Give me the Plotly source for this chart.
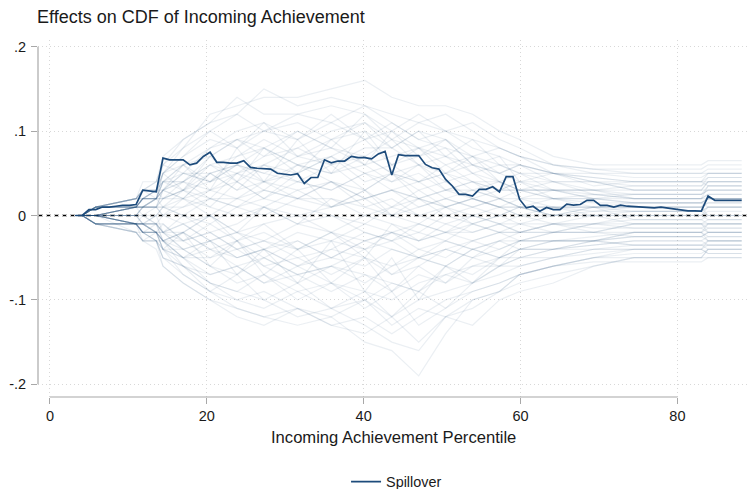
import numpy as np
import plotly.graph_objects as go

# ---------------- data ----------------
# sample positions (percentile) of the estimates: 100 evenly spaced points
x_grid = np.linspace(3.26, 88.2, 100)

# Spillover estimate at every sample position
spillover = [
    0.0, 0.0, 0.007, 0.007, 0.010, 0.010, 0.011, 0.012, 0.012, 0.013,
    0.030, 0.029, 0.028, 0.068, 0.066, 0.066, 0.066, 0.060, 0.062, 0.070,
    0.075, 0.063, 0.063, 0.062, 0.062, 0.065, 0.057, 0.056, 0.0555, 0.055,
    0.050, 0.049, 0.048, 0.0495, 0.038, 0.045, 0.045, 0.066, 0.0625, 0.0645,
    0.0645, 0.070, 0.0685, 0.0685, 0.067, 0.073, 0.076, 0.048, 0.072, 0.071,
    0.071, 0.071, 0.0605, 0.0566, 0.055, 0.0427, 0.035, 0.025, 0.025, 0.023,
    0.031, 0.031, 0.034, 0.028, 0.046, 0.046, 0.019, 0.009, 0.011, 0.005,
    0.0095, 0.007, 0.007, 0.0134, 0.0122, 0.013, 0.018, 0.018, 0.012, 0.012,
    0.010, 0.0122, 0.011, 0.0106, 0.010, 0.009, 0.009, 0.010, 0.0087, 0.008,
    0.006, 0.0055, 0.0055, 0.0052, 0.023, 0.018, 0.018, 0.018, 0.018, 0.018,
]

# placebo draws, read at these sample indices (values in hundredths)
placebo_knots = [0, 1, 3, 9, 10, 12, 13, 16, 20, 24, 28, 33, 38, 43, 47, 51,
                 55, 59, 63, 66, 71, 77, 83, 93, 94, 99]
placebo_hundredths = [
    [0, 0, 1, 2, 3, 4, 6, 8, 12, 13, 14, 14, 15, 16, 14, 13, 13, 12, 10, 9, 7, 6, 6, 6, 6.5, 6.5],
    [0, 0, 1, 2, 4, 4, 6, 9, 11, 14, 12, 12, 13, 12, 10, 12, 10, 11, 9, 8, 6, 5.5, 5, 5, 5.5, 5.5],
    [0, 0, 1, 1, 2, 2, 4, 5, 8, 10, 11, 9, 12, 9, 11, 9, 8, 7, 8, 7, 5, 4.5, 4, 4, 5, 5],
    [0, 0, 0, 1, 2, 3, 5, 7, 9, 8, 10, 11, 9, 10, 8, 10, 9, 6, 5, 6, 5, 4.5, 4, 4, 3.5, 3.5],
    [0, 0, 1, 2, 3, 3, 3, 6, 7, 9, 7, 8, 10, 11, 9, 8, 6, 7, 5, 4, 4, 3, 3.5, 3.5, 4.5, 4.5],
    [0, 0, 0, 1, 1, 2, 4, 4, 6, 7, 8, 6, 7, 9, 6, 7, 8, 5, 6, 5, 4, 4, 3.5, 3.5, 4, 4],
    [0, 0, 1, 1, 2, 2, 3, 5, 5, 6, 5, 7, 6, 8, 8, 6, 5, 6, 4, 5, 3, 3, 2.5, 2.5, 3, 3],
    [0, 0, 0, 1, 1, 1, 2, 3, 4, 5, 6, 5, 7, 5, 6, 4, 5, 4, 3, 3, 4, 2.5, 2, 2, 2.5, 2.5],
    [0, 0, 1, 2, 2, 2, 3, 4, 3, 5, 4, 6, 5, 6, 4, 5, 3, 4, 4, 2, 3, 2.5, 2.5, 2.5, 3, 3],
    [0, 0, 0, 1, 2, 3, 2, 3, 5, 3, 4, 3, 4, 3, 5, 3, 4, 2, 3, 3, 2, 2, 1.5, 1.5, 2, 2],
    [0, 0, 0, 0, 1, 1, 2, 2, 3, 4, 2, 4, 3, 5, 3, 4, 2, 3, 2, 2, 2, 1, 1, 1, 1.5, 1.5],
    [0, 0, 1, 1, 1, 1, 1, 3, 2, 2, 3, 2, 1, 2, 3, 2, 3, 2, 1, 1, 1, 0.5, 0.5, 0.5, 1, 1],
    [0, 0, 0, 1, 1, 2, 1, 1, 2, 1, 0, 2, 2, 1, 0, 1, 2, 1, 2, 1, 1, 0, 0, 0, 0.5, 0.5],
    [0, 0, 0, 0, 1, 1, 0, 2, 1, 0, 1, 0, 1, 3, 1, 2, 0, 1, 0, 1, 0, 0.5, 1, 1, 1.5, 1.5],
    [0, 0, 0, 1, 0, 0, 1, 0, -1, 1, 2, 1, 0, -1, 1, 0, -1, 0, 1, 0, 0, 1, -0.5, -0.5, 0, 0],
    [0, 0, 0, 0, 0, -1, 0, -1, 0, -2, -1, 0, -2, 0, -1, -2, 0, -1, 0, -1, 0, 0, -1, -1, -0.5, -0.5],
    [0, 0, 0, -1, -1, -1, -2, -1, -3, -2, -3, -1, -2, -3, -2, -1, -2, -2, -1, -2, -1, -1.5, -1.5, -1.5, -1, -1],
    [0, 0, -1, -1, -1, -2, -1, -3, -2, -4, -3, -4, -2, -4, -3, -2, -3, -1, -2, -2, -1, -2, -1, -1, -1.5, -1.5],
    [0, 0, 0, -1, -2, -2, -3, -2, -4, -3, -5, -3, -5, -3, -4, -5, -3, -4, -3, -2, -2, -2, -2.5, -2.5, -2, -2],
    [0, 0, -1, -1, -1, -2, -2, -4, -3, -5, -4, -6, -4, -5, -6, -4, -5, -3, -4, -3, -3, -2.5, -2, -2, -2.5, -2.5],
    [0, 0, 0, -1, -2, -3, -3, -5, -5, -4, -6, -5, -7, -5, -7, -6, -4, -5, -3, -4, -3, -3, -2.5, -2.5, -3, -3],
    [0, 0, -1, -2, -2, -2, -4, -4, -6, -7, -5, -7, -6, -8, -6, -5, -6, -4, -5, -4, -3, -3, -3.5, -3.5, -3.5, -3.5],
    [0, 0, 0, -1, -2, -2, -3, -6, -7, -6, -8, -7, -9, -7, -8, -9, -6, -7, -5, -4, -4, -3.5, -3, -3, -2.5, -2.5],
    [0, 0, -1, -1, -3, -3, -5, -6, -8, -9, -7, -10, -8, -9, -10, -8, -7, -6, -6, -5, -4, -4, -3.5, -3.5, -4, -4],
    [0, 0, 0, -2, -3, -3, -4, -7, -9, -10, -11, -9, -11, -10, -12, -10, -9, -8, -6, -6, -5, -4.5, -4, -4, -4.5, -4.5],
    [0, 0, -1, -2, -3, -4, -6, -8, -10, -11, -12, -11, -13, -12, -14, -12, -10, -9, -8, -7, -6, -5, -4.5, -4.5, -4, -4],
    [0, 0, -1, -2, -3, -3, -5, -7, -9, -11, -12, -13, -12, -15, -16, -19, -14, -10, -9, -8, -7, -6, -5, -5, -5, -5],
    [0, 0, 0, -1, -2, -2, -3, -5, -8, -9, -10, -12, -11, -13, -15, -16, -12, -11, -9, -7, -6, -5.5, -5.5, -5.5, -5, -5],
    [0, 0, 1, 2, 3, 3, 5, 8, 10, 12, 15, 13, 14, 13, 12, 11, 12, 10, 8, 7, 6, 5.5, 5.5, 5.5, 6, 6],
    [0, 0, 0, 1, 2, 2, 3, 4, 6, 4, 6, 8, 6, 7, 5, 6, 4, 5, 3, 4, 2, 2.5, 2, 2, 3.5, 3.5],
    [0, 0, 0, 0, -1, 0, 1, 2, 0, 2, 1, 3, 1, 2, 0, -1, 1, 0, -1, 0, -1, 0, 0.5, 0.5, 0, 0],
    [0, 0, 0, -1, 0, -1, -2, 0, -2, -1, 1, -1, 0, -2, -3, -1, -2, 0, -1, -1, -2, -1, -1.5, -1.5, -2, -2],
    [0, 0, 1, 1, 2, 2, 4, 6, 4, 7, 9, 7, 8, 6, 7, 8, 7, 6, 5, 6, 4, 4, 3, 3, 4, 4],
    [0, 0, -1, -1, -2, -1, -3, -3, -5, -3, -6, -8, -6, -7, -9, -7, -8, -6, -5, -5, -4, -3.5, -3, -3, -3.5, -3.5],
    [0, 0, 0, 0, 1, 1, 3, 2, 5, 6, 4, 5, 7, 4, 5, 2, 3, 3, 2, 1, 2, 1.5, 1.5, 1.5, 2, 2],
    [0, 0, 0, -1, -1, -1, -1, -3, -1, -3, -2, -4, -3, -1, -2, -3, -2, -3, -2, -3, -2, -1, -0.5, -0.5, -1, -1],
    [0, 0, 1, 1, 1, 2, 2, 4, 7, 9, 8, 10, 8, 7, 9, 6, 7, 5, 4, 3, 3, 3, 2, 2, 2.5, 2.5],
    [0, 0, -1, -1, -1, -2, -3, -5, -7, -6, -8, -6, -8, -10, -8, -9, -7, -8, -6, -5, -5, -4, -4, -4, -3.5, -3.5],
    [0, 0, 0, 1, 1, 1, 0, 1, 3, 2, 4, 2, 4, 2, 3, 1, 2, 1, 2, 1, 1, 1, 1.5, 1.5, 1, 1],
    [0, 0, 0, -1, -1, -2, -2, -2, -4, -5, -4, -6, -5, -6, -4, -5, -4, -5, -4, -3, -3, -3, -2, -2, -1.5, -1.5],
    [0, 0, 1, 1, 2, 2, 5, 3, 7, 4, 8, 5, 9, 6, 10, 7, 9, 6, 7, 4, 5, 3.5, 4, 4, 4.5, 4.5],
    [0, 0, -1, -1, -2, -2, -4, -2, -6, -3, -7, -4, -8, -5, -9, -6, -8, -5, -6, -4, -4, -3, -2.5, -2.5, -2, -2],
    [0, 0, 0, 1, 2, 3, 4, 6, 3, 8, 4, 9, 5, 10, 6, 8, 5, 7, 4, 3, 3, 2, 2.5, 2.5, 3.5, 3.5],
    [0, 0, 0, -1, -2, -3, -4, -5, -3, -7, -4, -8, -3, -9, -5, -10, -6, -8, -5, -4, -4, -3, -3.5, -3.5, -3, -3],
    [0, 0, 1, 2, 3, 2, 5, 7, 10, 8, 11, 7, 9, 11, 8, 10, 7, 9, 6, 5, 5, 4, 3, 3, 4, 4],
    [0, 0, -1, -2, -3, -2, -4, -6, -9, -7, -10, -8, -11, -9, -12, -9, -11, -8, -7, -6, -5, -4, -4, -4, -3, -3],
    [0, 0, 0, 0, 1, 2, 2, 3, 1, 4, 2, 5, 1, 3, 0, 2, 1, 2, 1, 1, 0, 1, 0.5, 0.5, 1, 1],
    [0, 0, 0, 0, -1, -1, -3, -2, 0, -3, -1, -4, -2, -5, -1, -3, -2, -1, -2, -1, -1, -1, 0, 0, -0.5, -0.5],
    [0, 0, 1, 1, 2, 3, 4, 3, 6, 5, 7, 10, 8, 12, 9, 11, 10, 8, 7, 6, 5, 5, 4.5, 4.5, 5, 5],
    [0, 0, -1, -1, -1, -2, -3, -4, -6, -8, -7, -9, -8, -11, -9, -13, -11, -9, -8, -7, -6, -5, -4, -4, -4.5, -4.5],
    [0, 0, 0, 1, 1, 2, 3, 5, 4, 6, 5, 4, 6, 3, 5, 4, 5, 3, 4, 3, 3, 2, 1.5, 1.5, 2, 2],
    [0, 0, 0, -1, -1, -1, -2, -4, -3, -5, -4, -3, -5, -3, -2, -4, -3, -4, -3, -3, -2, -2, -2, -2, -1, -1],
    [0, 0, 1, 2, 2, 3, 5, 6, 8, 9, 10, 12, 11, 9, 10, 8, 9, 7, 6, 6, 5, 4, 4, 4, 4, 4],
    [0, 0, -1, -1, -2, -3, -5, -6, -8, -10, -9, -11, -12, -10, -13, -11, -12, -10, -9, -7, -6, -5, -5, -5, -4, -4],
    [0, 0, 0, 0, 0, 1, 1, 0, 2, 1, 3, 2, 4, 2, 3, 2, 1, 2, 1, 2, 1, 1, 1, 1, 2, 2],
    [0, 0, 0, 0, -1, 0, -2, -1, -3, -2, -4, -2, -3, -4, -2, -3, -1, -2, -1, -2, -1, -1, -1, -1, -1, -1],
    [0, 0, 1, 1, 3, 3, 6, 5, 4, 6, 8, 6, 5, 7, 5, 4, 6, 4, 3, 4, 3, 3, 3, 3, 3, 3],
    [0, 0, -1, -1, -2, -2, -4, -5, -4, -6, -5, -7, -6, -4, -7, -5, -6, -4, -5, -3, -3, -3, -2, -2, -3, -3],
    [0, 0, 1, 2, 3, 4, 7, 9, 11, 12, 10, 9, 11, 13, 11, 9, 10, 9, 8, 7, 6, 5, 5, 5, 5, 5],
    [0, 0, -1, -1, -2, -3, -6, -8, -10, -12, -13, -11, -13, -14, -12, -15, -12, -13, -10, -9, -8, -6, -5, -5, -4, -4],
    [0, 0, 0, 1, 1, 1, 3, 2, 5, 3, 6, 4, 3, 5, 4, 6, 3, 4, 2, 3, 2, 2, 2, 2, 2, 2],
    [0, 0, 0, -1, -1, -1, -2, -3, -2, -4, -3, -5, -4, -2, -3, -5, -4, -3, -2, -2, -2, -2, -1, -1, -2, -2],
    [0, 0, 0, 1, 2, 2, 4, 4, 2, 5, 3, 6, 4, 1, 2, 0, 1, -1, 0, 1, 0, 0, 0, 0, 1, 1],
    [0, 0, 0, -1, -1, -2, -3, -2, 0, -2, 1, -1, 2, 0, 1, 3, 1, 2, 1, 0, 1, 1, 1, 1, 0, 0],
]

x_ticks = [0, 20, 40, 60, 80]
y_ticks = [-0.2, -0.1, 0.0, 0.1, 0.2]
y_tick_labels = ["-.2", "-.1", "0", ".1", ".2"]

# ---------------- styling ----------------
FONT = "Liberation Sans, Arial, Helvetica, sans-serif"
MAIN_COLOR = "#1d4b7b"
PLACEBO_COLOR = "rgba(26,71,111,0.085)"
AXIS_COLOR = "#a8a8a8"
GRID_COLOR = "#d8d8d8"
TEXT_COLOR = "#1a1a1a"

X_RANGE = [-1.52, 89.0]
Y_RANGE = [-0.2150, 0.2079]

fig = go.Figure()

px_knots = [x_grid[k] for k in placebo_knots]
for row in placebo_hundredths:
    fig.add_trace(go.Scatter(
        x=px_knots, y=[v / 100 for v in row], mode="lines",
        line=dict(color=PLACEBO_COLOR, width=1.2),
        showlegend=False, hoverinfo="skip"))

fig.add_trace(go.Scatter(
    x=x_grid, y=spillover, mode="lines", name="Spillover",
    line=dict(color=MAIN_COLOR, width=1.7)))


def xp(v):
    return (v - X_RANGE[0]) / (X_RANGE[1] - X_RANGE[0])


def yp(v):
    return (v - Y_RANGE[0]) / (Y_RANGE[1] - Y_RANGE[0])


shapes = [
    # dashed zero reference line
    dict(type="line", xref="paper", yref="y", x0=0, x1=1, y0=0, y1=0,
         line=dict(color="black", width=1.4, dash="5px,3px"), layer="between"),
    # x axis line (from first to last tick)
    dict(type="line", xref="paper", yref="paper", x0=xp(x_ticks[0]), x1=xp(x_ticks[-1]),
         y0=0, y1=0, line=dict(color=AXIS_COLOR, width=1.2), layer="above"),
    # y axis line (from first to last tick)
    dict(type="line", xref="paper", yref="paper", x0=0, x1=0,
         y0=yp(y_ticks[0]), y1=yp(y_ticks[-1]), line=dict(color=AXIS_COLOR, width=1.2), layer="above"),
]

fig.update_layout(
    width=749, height=489,
    margin=dict(l=37.5, r=1, t=40, b=92, autoexpand=False),
    paper_bgcolor="white", plot_bgcolor="white",
    font=dict(family=FONT, size=14.5, color=TEXT_COLOR),
    title=dict(text="Effects on CDF of Incoming Achievement",
               x=37 / 749, xref="container", xanchor="left",
               y=1 - 17 / 489, yref="container", yanchor="middle",
               font=dict(size=18, color=TEXT_COLOR, family=FONT)),
    xaxis=dict(range=X_RANGE, tickvals=x_ticks, ticks="outside", ticklen=6,
               tickcolor=AXIS_COLOR, tickwidth=1, showline=False, zeroline=False,
               showgrid=True, gridcolor=GRID_COLOR, griddash="1px,3px", gridwidth=1,
               automargin=False, tickfont=dict(size=14.5, color=TEXT_COLOR)),
    yaxis=dict(range=Y_RANGE, tickvals=y_ticks, ticktext=y_tick_labels,
               ticks="outside", ticklen=6, tickcolor=AXIS_COLOR, tickwidth=1,
               showline=False, zeroline=False, showgrid=True, gridcolor=GRID_COLOR,
               griddash="1px,3px", gridwidth=1, automargin=False,
               ticklabelstandoff=2, tickfont=dict(size=14.5, color=TEXT_COLOR)),
    shapes=shapes,
    annotations=[dict(text="Incoming Achievement Percentile", xref="paper", yref="paper",
                      x=0.5, y=-0.1148, xanchor="center", yanchor="middle",
                      showarrow=False, font=dict(size=16.6, color=TEXT_COLOR, family=FONT))],
    legend=dict(orientation="h", x=0.505, xanchor="center", y=-0.2373, yanchor="middle",
                font=dict(size=14.4, color=TEXT_COLOR), bgcolor="rgba(0,0,0,0)"),
    showlegend=True,
)

# remove the browser's default 8px page margin so the figure sits at the window origin
fig.write_html("out.html",
               config={"displayModeBar": False},
               post_script="document.body.style.margin='0';document.body.style.overflow='hidden';")
